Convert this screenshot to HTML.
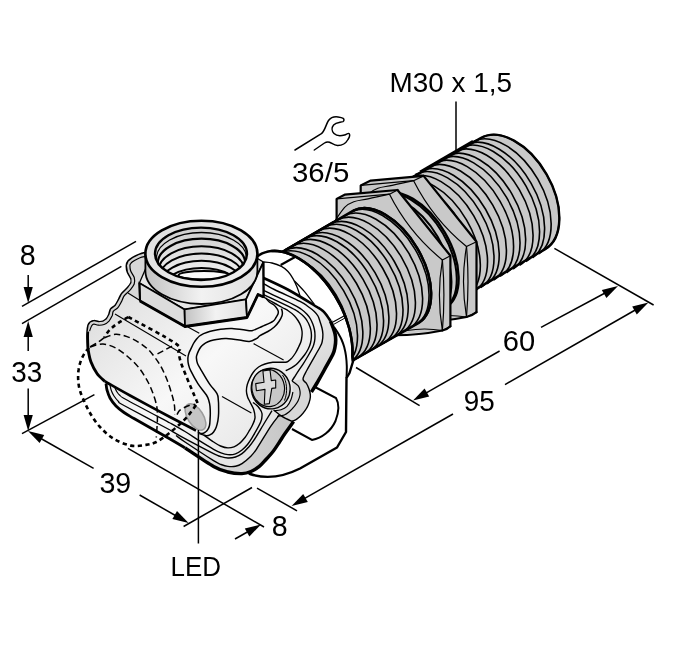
<!DOCTYPE html>
<html><head><meta charset="utf-8"><title>M30 sensor dimension drawing</title>
<style>html,body{margin:0;padding:0;background:#fff}svg{display:block;will-change:transform}text{font-family:"Liberation Sans",sans-serif;fill:#000}</style>
</head><body>
<svg width="700" height="650" viewBox="0 0 700 650">
<rect width="700" height="650" fill="#fff"/>
<g id="barrel">
<path d="M259.0,265.4 L480.7,138.1 A64.2 39.0 60.0 0 1 544.8,249.4 L325.1,376.3 A64.5 37.2 59.2 0 1 259.0,265.4 Z" fill="#c9c9c9" stroke="#000" stroke-width="2.4" stroke-linejoin="round"/>
<path d="M259.0,265.4 A64.5 37.2 59.2 0 1 325.1,376.3" fill="none" stroke="#000" stroke-width="1.6" />
<path d="M265.5,261.6 A64.6 37.3 59.2 0 1 331.5,372.6" fill="none" stroke="#000" stroke-width="1.6" />
<path d="M272.0,257.9 A64.6 37.3 59.3 0 1 338.0,368.9" fill="none" stroke="#000" stroke-width="1.6" />
<path d="M278.5,254.1 A64.6 37.3 59.3 0 1 344.5,365.2" fill="none" stroke="#000" stroke-width="1.6" />
<path d="M285.0,250.3 A64.7 37.3 59.3 0 1 351.0,361.5" fill="none" stroke="#000" stroke-width="1.6" />
<path d="M291.5,246.5 A64.7 37.3 59.3 0 1 357.5,357.8" fill="none" stroke="#000" stroke-width="1.6" />
<path d="M298.0,242.7 A64.7 37.3 59.4 0 1 364.0,354.1" fill="none" stroke="#000" stroke-width="1.6" />
<path d="M304.5,239.0 A64.7 37.4 59.4 0 1 370.5,350.4" fill="none" stroke="#000" stroke-width="1.6" />
<path d="M311.0,235.2 A64.8 37.4 59.4 0 1 376.9,346.7" fill="none" stroke="#000" stroke-width="1.6" />
<path d="M317.5,231.4 A64.8 37.4 59.4 0 1 383.4,343.0" fill="none" stroke="#000" stroke-width="1.6" />
<path d="M324.0,227.6 A64.8 37.4 59.5 0 1 389.9,339.3" fill="none" stroke="#000" stroke-width="1.6" />
<path d="M330.5,223.9 A64.9 37.4 59.5 0 1 396.4,335.6" fill="none" stroke="#000" stroke-width="1.6" />
<path d="M337.0,220.1 A64.9 37.4 59.5 0 1 402.9,331.9" fill="none" stroke="#000" stroke-width="1.6" />
<path d="M343.5,216.3 A64.9 37.5 59.5 0 1 409.4,328.2" fill="none" stroke="#000" stroke-width="1.6" />
<path d="M350.0,212.5 A64.9 37.5 59.5 0 1 415.8,324.5" fill="none" stroke="#000" stroke-width="1.6" />
<path d="M356.5,208.8 A65.0 37.5 59.6 0 1 422.3,320.8" fill="none" stroke="#000" stroke-width="1.6" />
<path d="M363.0,205.0 A65.0 37.5 59.6 0 1 428.8,317.1" fill="none" stroke="#000" stroke-width="1.6" />
<path d="M369.5,201.2 A65.0 37.5 59.6 0 1 435.3,313.4" fill="none" stroke="#000" stroke-width="1.6" />
<path d="M376.0,197.4 A65.1 37.5 59.6 0 1 441.8,309.7" fill="none" stroke="#000" stroke-width="1.6" />
<path d="M382.5,193.6 A65.1 37.6 59.7 0 1 448.2,306.0" fill="none" stroke="#000" stroke-width="1.6" />
<path d="M389.0,189.9 A65.1 37.6 59.7 0 1 454.7,302.3" fill="none" stroke="#000" stroke-width="1.6" />
<path d="M395.5,186.1 A65.1 37.6 59.7 0 1 461.2,298.6" fill="none" stroke="#000" stroke-width="1.6" />
<path d="M402.0,182.3 A65.2 37.6 59.7 0 1 467.7,294.9" fill="none" stroke="#000" stroke-width="1.6" />
<path d="M408.5,178.5 A65.2 37.6 59.8 0 1 474.2,291.2" fill="none" stroke="#000" stroke-width="1.6" />
<path d="M415.0,174.8 A65.2 37.6 59.8 0 1 480.7,287.5" fill="none" stroke="#000" stroke-width="1.6" />
<path d="M421.5,171.0 A65.3 37.7 59.8 0 1 487.1,283.8" fill="none" stroke="#000" stroke-width="1.6" />
<path d="M428.0,167.2 A65.3 37.7 59.8 0 1 493.6,280.1" fill="none" stroke="#000" stroke-width="1.6" />
<path d="M434.5,163.4 A65.3 37.7 59.8 0 1 500.1,276.4" fill="none" stroke="#000" stroke-width="1.6" />
<path d="M441.0,159.7 A65.3 37.7 59.9 0 1 506.6,272.7" fill="none" stroke="#000" stroke-width="1.6" />
<path d="M447.5,155.9 A65.4 37.7 59.9 0 1 513.1,269.0" fill="none" stroke="#000" stroke-width="1.6" />
<path d="M454.0,152.1 A65.4 37.7 59.9 0 1 519.6,265.3" fill="none" stroke="#000" stroke-width="1.6" />
<path d="M460.5,148.3 A65.4 37.8 59.9 0 1 526.0,261.6" fill="none" stroke="#000" stroke-width="1.6" />
<path d="M467.0,144.6 A65.5 37.8 60.0 0 1 532.5,257.9" fill="none" stroke="#000" stroke-width="1.6" />
<path d="M473.7,141.2 A65.1 38.2 60.0 0 1 538.8,253.8" fill="none" stroke="#000" stroke-width="1.6" />
<path d="M480.7,138.1 A64.2 39.0 60.0 0 1 544.8,249.4" fill="none" stroke="#000" stroke-width="1.6" />
</g>
<g id="nut2">
<path d="M370.7,180.6 L423.6,175.9 L476.5,241.7 L476.5,312.2 L423.6,316.9 L370.7,251.1 Z" fill="#c9c9c9" stroke="none" stroke-width="1.3" />
<path d="M360.7,185.4 L370.7,180.6 L423.6,175.9 L476.5,241.7 L476.5,312.2 L466.5,317.0 L413.6,321.7 L360.7,255.9 Z" fill="#c9c9c9" stroke="none" stroke-width="1.3" />
<path d="M360.7,185.4 L413.6,180.7" fill="none" stroke="#000" stroke-width="1.2" />
<path d="M413.6,180.7 L423.6,175.9" fill="none" stroke="#000" stroke-width="1.2" />
<path d="M466.5,246.5 L476.5,241.7" fill="none" stroke="#000" stroke-width="1.2" />
<path d="M466.5,317.0 L476.5,312.2" fill="none" stroke="#000" stroke-width="1.2" />
<path d="M360.7,255.9 L360.7,185.4 L370.7,180.6 L423.6,175.9" fill="none" stroke="#000" stroke-width="2.2" stroke-linejoin="round" stroke-linecap="round"/>
<path d="M423.6,175.9 L476.5,241.7 L476.5,312.2" fill="none" stroke="#000" stroke-width="2.2" stroke-linejoin="round" stroke-linecap="round"/>
<path d="M466.5,246.5 Q460.5,281.7 466.5,317.0" fill="none" stroke="#000" stroke-width="1.2" stroke-linejoin="round" stroke-linecap="round"/>
<path d="M466.5,246.5 Q469.5,281.7 466.5,317.0" fill="none" stroke="#000" stroke-width="1.2" stroke-linejoin="round" stroke-linecap="round"/>
<path d="M413.6,180.7 Q433.0,219.2 466.5,246.5" fill="none" stroke="#000" stroke-width="1.2" stroke-linejoin="round" stroke-linecap="round"/>
<path d="M476.5,312.2 Q472.1,315.9 466.5,317.0" fill="none" stroke="#000" stroke-width="2.2" stroke-linejoin="round" stroke-linecap="round"/>
<path d="M466.5,317.0 Q440.3,322.3 413.6,321.7" fill="none" stroke="#000" stroke-width="2.2" stroke-linejoin="round" stroke-linecap="round"/>
<path d="M466.5,317.0 Q439.4,312.4 413.6,321.7" fill="none" stroke="#000" stroke-width="1.2" stroke-linejoin="round" stroke-linecap="round"/>
<path d="M358.5,208.2 C360.2,205.8 365.5,197.2 368.7,193.8 C372.0,190.5 374.0,189.6 377.9,188.2 C381.8,186.8 386.3,186.6 392.2,185.3 C398.2,184.1 410.0,181.5 413.6,180.7" fill="none" stroke="#000" stroke-width="1.2" />
</g>
<path d="M364.6,204.0 L380.8,194.7 A65.1 37.6 59.7 0 1 446.5,307.0 L430.4,316.2 A65.0 37.5 59.6 0 1 364.6,204.0 Z" fill="#c9c9c9" stroke="#000" stroke-width="2.4" stroke-linejoin="round"/>
<path d="M372.4,199.5 A65.0 37.5 59.6 0 1 438.2,311.7" fill="none" stroke="#000" stroke-width="2.0" />
<path d="M379.0,195.7 A65.1 37.5 59.7 0 1 444.7,308.0" fill="none" stroke="#000" stroke-width="2.0" />
<g id="nut1">
<path d="M344.6,194.7 L397.5,190.0 L450.4,255.8 L450.4,326.3 L397.5,331.0 L344.6,265.2 Z" fill="#c9c9c9" stroke="none" stroke-width="1.3" />
<path d="M336.6,198.9 L344.6,194.7 L397.5,190.0 L450.4,255.8 L450.4,326.3 L442.4,330.5 L389.5,335.2 L336.6,269.4 Z" fill="#c9c9c9" stroke="none" stroke-width="1.3" />
<path d="M336.6,198.9 L389.5,194.2" fill="none" stroke="#000" stroke-width="1.2" />
<path d="M389.5,194.2 L397.5,190.0" fill="none" stroke="#000" stroke-width="1.2" />
<path d="M442.4,260.0 L450.4,255.8" fill="none" stroke="#000" stroke-width="1.2" />
<path d="M442.4,330.5 L450.4,326.3" fill="none" stroke="#000" stroke-width="1.2" />
<path d="M336.6,269.4 L336.6,198.9 L344.6,194.7 L397.5,190.0" fill="none" stroke="#000" stroke-width="2.2" stroke-linejoin="round" stroke-linecap="round"/>
<path d="M397.5,190.0 L450.4,255.8 L450.4,326.3" fill="none" stroke="#000" stroke-width="2.2" stroke-linejoin="round" stroke-linecap="round"/>
<path d="M442.4,260.0 Q436.4,295.2 442.4,330.5" fill="none" stroke="#000" stroke-width="1.2" stroke-linejoin="round" stroke-linecap="round"/>
<path d="M442.4,260.0 Q445.4,295.2 442.4,330.5" fill="none" stroke="#000" stroke-width="1.2" stroke-linejoin="round" stroke-linecap="round"/>
<path d="M389.5,194.2 Q408.9,232.7 442.4,260.0" fill="none" stroke="#000" stroke-width="1.2" stroke-linejoin="round" stroke-linecap="round"/>
<path d="M450.4,326.3 Q447.1,329.7 442.4,330.5" fill="none" stroke="#000" stroke-width="2.2" stroke-linejoin="round" stroke-linecap="round"/>
<path d="M442.4,330.5 Q416.2,335.8 389.5,335.2" fill="none" stroke="#000" stroke-width="2.2" stroke-linejoin="round" stroke-linecap="round"/>
<path d="M442.4,330.5 Q415.3,325.9 389.5,335.2" fill="none" stroke="#000" stroke-width="1.2" stroke-linejoin="round" stroke-linecap="round"/>
<path d="M334.4,221.7 C336.1,219.3 341.4,210.7 344.6,207.3 C347.9,204.0 349.9,203.1 353.8,201.7 C357.7,200.3 362.2,200.1 368.1,198.8 C374.1,197.6 385.9,195.0 389.5,194.2" fill="none" stroke="#000" stroke-width="1.2" />
</g>
<path d="M259.0,265.4 L353.4,210.6 A65.0 37.5 59.6 0 1 419.2,322.6 L325.1,376.3 A64.5 37.2 59.2 0 1 259.0,265.4 Z" fill="#c9c9c9" stroke="#000" stroke-width="2.4" stroke-linejoin="round"/>
<path d="M259.0,265.4 A64.5 37.2 59.2 0 1 325.1,376.3" fill="none" stroke="#000" stroke-width="1.6" />
<path d="M265.5,261.6 A64.6 37.3 59.2 0 1 331.5,372.6" fill="none" stroke="#000" stroke-width="1.6" />
<path d="M272.0,257.9 A64.6 37.3 59.3 0 1 338.0,368.9" fill="none" stroke="#000" stroke-width="1.6" />
<path d="M278.5,254.1 A64.6 37.3 59.3 0 1 344.5,365.2" fill="none" stroke="#000" stroke-width="1.6" />
<path d="M285.0,250.3 A64.7 37.3 59.3 0 1 351.0,361.5" fill="none" stroke="#000" stroke-width="1.6" />
<path d="M291.5,246.5 A64.7 37.3 59.3 0 1 357.5,357.8" fill="none" stroke="#000" stroke-width="1.6" />
<path d="M298.0,242.7 A64.7 37.3 59.4 0 1 364.0,354.1" fill="none" stroke="#000" stroke-width="1.6" />
<path d="M304.5,239.0 A64.7 37.4 59.4 0 1 370.5,350.4" fill="none" stroke="#000" stroke-width="1.6" />
<path d="M311.0,235.2 A64.8 37.4 59.4 0 1 376.9,346.7" fill="none" stroke="#000" stroke-width="1.6" />
<path d="M317.5,231.4 A64.8 37.4 59.4 0 1 383.4,343.0" fill="none" stroke="#000" stroke-width="1.6" />
<path d="M324.0,227.6 A64.8 37.4 59.5 0 1 389.9,339.3" fill="none" stroke="#000" stroke-width="1.6" />
<path d="M330.5,223.9 A64.9 37.4 59.5 0 1 396.4,335.6" fill="none" stroke="#000" stroke-width="1.6" />
<path d="M337.0,220.1 A64.9 37.4 59.5 0 1 402.9,331.9" fill="none" stroke="#000" stroke-width="1.6" />
<path d="M343.5,216.3 A64.9 37.5 59.5 0 1 409.4,328.2" fill="none" stroke="#000" stroke-width="1.6" />
<path d="M350.0,212.5 A64.9 37.5 59.5 0 1 415.8,324.5" fill="none" stroke="#000" stroke-width="1.6" />
<path d="M353.4,210.6 A65.0 37.5 59.6 0 1 419.2,322.6" fill="none" stroke="#000" stroke-width="2.4" />
<line x1="285.0" y1="250.3" x2="334.0" y2="221.8" stroke="#000" stroke-width="2.4" />
<line x1="420.0" y1="171.9" x2="473.0" y2="141.1" stroke="#000" stroke-width="2.4" />
<defs>
<linearGradient id="gBody" x1="0" y1="0" x2="1" y2="1"><stop offset="0" stop-color="#cecece"/><stop offset="0.25" stop-color="#e6e6e6"/><stop offset="0.5" stop-color="#f8f8f8"/><stop offset="1" stop-color="#dcdcdc"/></linearGradient>
<linearGradient id="gCyl" x1="0" y1="0" x2="1" y2="0"><stop offset="0" stop-color="#c2c2c2"/><stop offset="0.5" stop-color="#f2f2f2"/><stop offset="1" stop-color="#e0e0e0"/></linearGradient>
<linearGradient id="gRing" x1="0" y1="0" x2="1" y2="1"><stop offset="0" stop-color="#dcdcdc"/><stop offset="1" stop-color="#f2f2f2"/></linearGradient>
<linearGradient id="gBore" x1="0" y1="0" x2="0" y2="1"><stop offset="0" stop-color="#cecece"/><stop offset="1" stop-color="#f2f2f2"/></linearGradient>
<linearGradient id="gBot" gradientUnits="userSpaceOnUse" x1="190" y1="445" x2="285" y2="440"><stop offset="0" stop-color="#e4e4e4"/><stop offset="0.45" stop-color="#d4d4d4"/><stop offset="1" stop-color="#c8c8c8"/></linearGradient>
<linearGradient id="gBand" gradientUnits="userSpaceOnUse" x1="270" y1="285" x2="325" y2="370"><stop offset="0" stop-color="#fcfcfc"/><stop offset="0.45" stop-color="#ececec"/><stop offset="1" stop-color="#d8d8d8"/></linearGradient>
<clipPath id="cBore"><ellipse cx="201" cy="253.8" rx="46" ry="26.2"/></clipPath>
</defs>
<g id="bracket">
<path d="M250.6,263.8 L252.5,261.1 L254.6,258.7 L256.9,256.6 L259.5,254.9 L262.2,253.4 L265.1,252.3 L268.1,251.5 L271.3,251.0 L274.7,250.9 L278.1,251.1 L281.7,251.7 L285.3,252.5 L289.0,253.8 L292.7,255.3 L296.5,257.2 L300.3,259.4 L304.1,261.9 L307.8,264.6 L311.5,267.7 L315.1,271.0 L318.7,274.5 L322.1,278.3 L325.5,282.2 L328.7,286.4 L331.7,290.7 L334.6,295.2 L337.3,299.8 L339.9,304.5 L342.2,309.3 L344.3,314.1 L346.2,319.0 L347.8,323.9 L349.3,328.7 L350.4,333.6 L351.3,338.3 L352.0,343.0 L352.4,347.6 L352.5,352.0 L352.4,356.3 L353.0,361.5 L349.5,373.0 L346.5,378.0 L346.0,432.0 L337.0,447.5 L300.0,468.5 C285,476 268,480 250,474 L200,440 L230,300 Z" fill="#fff" stroke="#000" stroke-width="2.4" stroke-linejoin="round"/>
<path d="M271.3,251.0 L274.7,250.9 L278.1,251.1 L281.7,251.7 L285.3,252.5 L289.0,253.8 L292.7,255.3 L296.5,257.2 L300.3,259.4 L304.1,261.9 L307.8,264.6 L311.5,267.7 L315.1,271.0 L318.7,274.5 L322.1,278.3 L325.5,282.2 L328.7,286.4 L331.7,290.7 L334.6,295.2 L337.3,299.8 L339.9,304.5 L342.2,309.3 L344.3,314.1 L346.2,319.0 L347.8,323.9 L349.3,328.7 L350.4,333.6 L351.3,338.3 L352.0,343.0 L352.4,347.6 L352.5,352.0 L352.4,356.3 L353.0,361.5" fill="none" stroke="#000" stroke-width="2.6" />
<path d="M292,429 L312,440 C322,438 331,431 335.5,421 C339,412 339.5,404 336,398 L313,386" fill="none" stroke="#000" stroke-width="2.0" />
<line x1="280.7" y1="265.0" x2="295.5" y2="256.8" stroke="#000" stroke-width="2.2" />
<line x1="333.0" y1="322.0" x2="344.0" y2="316.0" stroke="#000" stroke-width="1.2" />
<line x1="334.0" y1="324.2" x2="345.0" y2="318.0" stroke="#000" stroke-width="1.0" />
<path d="M263.6,262.0 C265.0,262.2 269.0,262.3 272.0,263.0 C275.0,263.7 278.7,265.0 281.4,266.4 C284.1,267.8 286.1,269.5 288.0,271.5 C289.9,273.5 291.5,276.0 293.0,278.6 C294.5,281.2 295.8,284.1 297.0,287.0 C298.2,289.9 299.5,294.2 300.0,295.7" fill="none" stroke="#000" stroke-width="1.3" />
<path d="M294.3,280.7 C296.0,282.5 301.0,287.5 304.3,291.4 C307.6,295.3 312.6,302.1 314.3,304.3" fill="none" stroke="#000" stroke-width="1.3" />
<path d="M334.0,327.0 C334.7,328.0 336.8,330.9 338.0,333.0 C339.2,335.1 340.5,337.2 341.5,339.5 C342.5,341.8 343.4,344.2 344.2,347.0 C344.9,349.8 345.6,352.8 346.0,356.0 C346.4,359.2 346.7,362.3 346.8,366.0 C346.9,369.7 346.6,376.0 346.5,378.0" fill="none" stroke="#000" stroke-width="2.0" />
</g>
<g id="housing">
<path d="M146.0,253.0 L139.0,255.0 L133.0,258.0 L128.5,261.5 L127.0,265.5 L128.0,272.0 L131.5,278.5 L131.5,283.0 L128.0,288.0 L122.0,294.0 L119.0,300.0 L115.7,305.7 L111.0,309.5 L109.5,314.5 L106.8,319.2 L103.1,321.8 L98.5,322.3 L94.0,321.2 L90.5,322.6 L88.6,325.5 L87.7,332.0 L87.6,340.0 L88.2,350.0 L91.0,362.0 L97.0,373.5 L105.0,381.5 L106.0,383.5 L107.0,390.0 L110.0,398.0 L116.0,406.0 L124.0,412.5 L134.0,418.5 L170.0,439.0 L185.0,447.9 L213.6,466.4 L227.9,472.0 L242.0,473.6 L251.0,471.5 L259.3,466.4 L266.0,459.5 L273.6,450.7 L279.5,442.0 L285.0,433.6 L293.6,421.4 L296.4,419.3 L305.0,410.7 L310.0,399.3 L311.4,392.0 L311.4,392.0 L317.0,383.0 L324.3,370.0 L332.9,354.3 L335.0,347.0 L335.7,340.0 L335.0,333.5 L332.9,327.0 L330.5,321.0 L327.0,315.7 L323.0,311.0 L317.0,307.0 L288.6,290.0 L263.6,278.0 L263.6,262.0 L220.0,240.0 L170.0,245.0 Z" fill="url(#gBody)" stroke="none" stroke-width="1.3" />
<path d="M263.6,278.0 L288.6,290.0 L317.0,307.0 L323.0,311.0 L327.0,315.7 L330.5,321.0 L332.9,327.0 L335.0,333.5 L335.7,340.0 L335.0,347.0 L332.9,354.3 L324.3,370.0 L317.0,383.0 L311.4,392.0 L305.0,410.7 L303.0,379.0 L307.0,370.0 L320.0,347.0 L322.3,341.0 L322.9,334.3 L322.0,328.0 L320.0,321.4 L318.0,316.0 L314.3,311.4 L308.0,306.5 L300.0,301.4 L274.3,289.5 L263.6,283.5 Z" fill="url(#gBand)" stroke="none" stroke-width="1.3" />
<path d="M185.0,447.9 L213.6,466.4 L227.9,472.0 L242.0,473.6 L251.0,471.5 L259.3,466.4 L266.0,459.5 L273.6,450.7 L279.5,442.0 L285.0,433.6 L293.6,421.4 L292.0,421.4 L282.0,416.4 L279.3,415.0 L270.7,426.4 L256.4,449.3 L249.5,457.5 L242.0,463.6 L235.5,466.3 L227.9,466.4 L221.0,464.5 L213.6,460.7 Z" fill="url(#gBot)" stroke="none" stroke-width="1.3" />
<path d="M185.0,438.6 L213.6,453.6 L221.0,456.6 L227.9,458.0 L235.5,457.0 L242.0,453.6 L248.0,447.8 L253.6,440.7 L265.0,422.0 L272.0,410.7 L273.6,410.0 L279.3,415.0 L270.7,426.4 L256.4,449.3 L249.5,457.5 L242.0,463.6 L235.5,466.3 L227.9,466.4 L221.0,464.5 L213.6,460.7 L185.0,442.0 Z" fill="#e6e6e6" stroke="none" stroke-width="1.3" />
<path d="M292.0,381.0 L303.0,379.0 L306.5,383.5 L309.0,389.0 L310.3,394.5 L310.0,399.3 L308.0,405.5 L305.0,410.7 L301.0,415.5 L296.4,419.3 L292.0,421.4 L292.0,421.4 L282.0,416.4 L273.6,410.0 L274.3,410.7 L274.3,410.7 L281.0,409.8 L287.0,406.4 L291.0,399.5 L292.9,392.0 Z" fill="#d8d8d8" stroke="none" stroke-width="1.3" />
<path d="M146.0,253.0 C144.8,253.3 141.2,254.2 139.0,255.0 C136.8,255.8 134.8,256.9 133.0,258.0 C131.2,259.1 129.5,260.2 128.5,261.5 C127.5,262.8 127.1,263.8 127.0,265.5 C126.9,267.2 127.2,269.8 128.0,272.0 C128.8,274.2 130.9,276.7 131.5,278.5 C132.1,280.3 132.1,281.4 131.5,283.0 C130.9,284.6 129.6,286.2 128.0,288.0 C126.4,289.8 123.5,292.0 122.0,294.0 C120.5,296.0 120.0,298.1 119.0,300.0 C118.0,301.9 117.0,304.1 115.7,305.7 C114.4,307.3 112.0,308.0 111.0,309.5 C110.0,311.0 110.2,312.9 109.5,314.5 C108.8,316.1 107.9,318.0 106.8,319.2 C105.7,320.4 104.5,321.3 103.1,321.8 C101.7,322.3 100.0,322.4 98.5,322.3 C97.0,322.2 95.3,321.1 94.0,321.2 C92.7,321.2 91.4,321.9 90.5,322.6 C89.6,323.3 89.1,323.9 88.6,325.5 C88.1,327.1 87.9,329.6 87.7,332.0 C87.5,334.4 87.5,337.0 87.6,340.0 C87.7,343.0 87.6,346.3 88.2,350.0 C88.8,353.7 89.5,358.1 91.0,362.0 C92.5,365.9 94.7,370.2 97.0,373.5 C99.3,376.8 103.7,380.2 105.0,381.5" fill="none" stroke="#000" stroke-width="2.9" />
<path d="M146.0,253.0 L139.0,255.0 L133.0,258.0 L128.5,261.5 L127.0,265.5 L128.0,272.0 L131.5,278.5 L131.5,283.0 L128.0,288.0 L122.0,294.0 L119.0,300.0 L115.7,305.7 L111.0,309.5 L109.5,314.5 L106.8,319.2 L103.1,321.8 L98.5,322.3 L94.0,321.2 L90.5,322.6 L88.6,325.5 L87.7,332.0 L89.6,331.0 L91.4,326.3 L92.3,324.9 L94.1,324.1 L98.3,325.2 L104.1,324.5 L109.0,321.1 L112.2,315.7 L113.4,311.2 L117.9,307.6 L121.6,301.4 L124.3,295.7 L130.2,289.9 L134.2,284.0 L134.3,277.6 L130.7,271.1 L129.9,265.6 L130.8,263.3 L134.5,260.5 L140.0,257.7 L146.0,256.2 Z" fill="#d4d4d4" stroke="none" stroke-width="1.3" />
<path d="M146.0,256.2 L140.0,257.7 L134.5,260.5 L130.8,263.3 L129.9,265.6 L130.7,271.1 L134.3,277.6 L134.2,284.0 L130.2,289.9 L128.0,293.0 L140.0,300.5 L140.0,283.0 L147.0,270.0 Z" fill="#d8d8d8" stroke="none" stroke-width="1.3" />
<path d="M146.0,256.2 C145.0,256.5 142.0,257.0 140.0,257.7 C138.1,258.4 136.1,259.5 134.5,260.5 C133.0,261.4 131.5,262.4 130.8,263.3 C130.0,264.2 129.9,264.3 129.9,265.6 C129.9,266.9 130.0,269.1 130.7,271.1 C131.5,273.0 133.7,275.5 134.3,277.6 C134.8,279.8 134.9,282.0 134.2,284.0 C133.5,286.0 131.8,287.9 130.2,289.9 C128.5,291.9 125.8,293.8 124.3,295.7 C122.9,297.7 122.6,299.4 121.6,301.4 C120.5,303.3 119.3,305.9 117.9,307.6 C116.6,309.2 114.3,309.8 113.4,311.2 C112.4,312.5 112.9,314.0 112.2,315.7 C111.4,317.3 110.3,319.6 109.0,321.1 C107.6,322.6 105.9,323.8 104.1,324.5 C102.3,325.2 100.0,325.3 98.3,325.2 C96.6,325.1 95.1,324.2 94.1,324.1 C93.1,324.0 92.8,324.5 92.3,324.9 C91.9,325.2 91.8,325.3 91.4,326.3 C90.9,327.3 89.9,330.2 89.6,331.0" fill="none" stroke="#000" stroke-width="1.2" />
<path d="M106.0,383.5 C106.2,384.6 106.3,387.6 107.0,390.0 C107.7,392.4 108.5,395.3 110.0,398.0 C111.5,400.7 113.7,403.6 116.0,406.0 C118.3,408.4 121.0,410.4 124.0,412.5 C127.0,414.6 126.3,414.1 134.0,418.5 C141.7,422.9 161.5,434.1 170.0,439.0 C178.5,443.9 182.5,446.4 185.0,447.9" fill="none" stroke="#000" stroke-width="2.8" />
<path d="M185.0,447.9 C189.8,451.0 206.4,462.4 213.6,466.4 C220.8,470.4 223.2,470.8 227.9,472.0 C232.6,473.2 238.2,473.7 242.0,473.6 C245.8,473.5 248.1,472.7 251.0,471.5 C253.9,470.3 256.8,468.4 259.3,466.4 C261.8,464.4 263.6,462.1 266.0,459.5 C268.4,456.9 271.4,453.6 273.6,450.7 C275.9,447.8 277.6,444.9 279.5,442.0 C281.4,439.1 282.6,437.0 285.0,433.6 C287.4,430.2 292.2,423.4 293.6,421.4" fill="none" stroke="#000" stroke-width="3.4" />
<path d="M263.6,278.0 C267.8,280.0 279.7,285.2 288.6,290.0 C297.5,294.8 311.3,303.5 317.0,307.0 C322.7,310.5 321.3,309.6 323.0,311.0 C324.7,312.4 325.8,314.0 327.0,315.7 C328.2,317.4 329.9,320.1 330.5,321.0" fill="none" stroke="#000" stroke-width="2.6" />
<path d="M330.5,321.0 C330.9,322.0 332.1,324.9 332.9,327.0 C333.6,329.1 334.5,331.3 335.0,333.5 C335.5,335.7 335.7,337.8 335.7,340.0 C335.7,342.2 335.5,344.6 335.0,347.0 C334.5,349.4 334.7,350.5 332.9,354.3 C331.1,358.1 326.9,365.2 324.3,370.0 C321.7,374.8 319.1,379.3 317.0,383.0 C314.9,386.7 312.3,390.5 311.4,392.0" fill="none" stroke="#000" stroke-width="3.6" />
<path d="M263.6,283.5 C265.4,284.5 268.2,286.5 274.3,289.5 C280.4,292.5 294.4,298.6 300.0,301.4 C305.6,304.2 305.6,304.8 308.0,306.5 C310.4,308.2 312.6,309.8 314.3,311.4 C316.0,313.0 317.1,314.3 318.0,316.0 C318.9,317.7 319.3,319.4 320.0,321.4 C320.7,323.4 321.5,325.9 322.0,328.0 C322.5,330.1 322.8,332.1 322.9,334.3 C322.9,336.5 322.8,338.9 322.3,341.0 C321.8,343.1 322.6,342.2 320.0,347.0 C317.4,351.8 309.8,364.7 307.0,370.0 C304.2,375.3 303.1,376.8 303.0,379.0 C302.9,381.2 305.5,381.8 306.5,383.5 C307.5,385.2 308.4,387.2 309.0,389.0 C309.6,390.8 310.1,392.8 310.3,394.5 C310.5,396.2 310.4,397.5 310.0,399.3 C309.6,401.1 308.8,403.6 308.0,405.5 C307.2,407.4 306.2,409.0 305.0,410.7 C303.8,412.4 302.4,414.1 301.0,415.5 C299.6,416.9 297.9,418.3 296.4,419.3 C294.9,420.3 292.7,421.0 292.0,421.4" fill="none" stroke="#000" stroke-width="1.4" />
<path d="M263.6,290.0 C264.0,290.2 260.8,289.0 265.7,291.4 C270.6,293.8 287.0,301.4 292.9,304.3 C298.8,307.2 298.6,307.3 301.0,309.0 C303.4,310.7 305.4,312.6 307.0,314.3 C308.6,316.0 309.5,317.3 310.5,319.0 C311.5,320.7 312.2,322.5 312.9,324.3 C313.6,326.1 314.1,328.1 314.5,330.0 C314.9,331.9 315.0,333.8 315.0,335.7 C315.0,337.6 314.9,339.6 314.5,341.5 C314.1,343.4 314.0,344.6 312.9,347.0 C311.8,349.4 309.7,353.1 308.0,356.0 C306.3,358.9 304.5,361.9 302.9,364.3 C301.3,366.8 300.0,368.6 298.6,370.7 C297.2,372.8 295.6,375.3 294.5,377.0 C293.4,378.7 292.4,380.3 292.0,381.0" fill="none" stroke="#000" stroke-width="1.4" />
<path d="M263.6,294.7 C268.2,296.9 285.6,305.0 291.4,307.9 C297.2,310.8 296.4,310.5 298.5,312.0 C300.6,313.5 302.8,315.3 304.3,317.0 C305.9,318.7 306.9,320.3 307.8,322.0 C308.8,323.7 309.4,325.3 310.0,327.0 C310.6,328.7 311.0,330.3 311.2,332.0 C311.4,333.7 311.5,335.2 311.4,337.0 C311.3,338.8 311.0,341.0 310.5,343.0 C310.0,345.0 309.2,347.0 308.2,349.0 C307.2,351.0 305.9,353.1 304.5,355.0 C303.1,356.9 301.4,358.9 300.0,360.5 C298.6,362.1 297.4,363.6 296.0,364.8 C294.6,366.0 293.1,366.9 291.4,367.9 C289.7,368.9 286.6,370.2 285.7,370.7" fill="none" stroke="#000" stroke-width="1.4" />
<path d="M258.0,294.5 C258.9,294.9 259.7,294.9 263.6,297.0 C267.5,299.1 277.2,304.7 281.4,307.0 C285.5,309.3 286.4,309.6 288.5,311.0 C290.6,312.4 292.7,314.1 294.3,315.7 C295.9,317.3 296.9,318.8 298.0,320.5 C299.1,322.2 300.0,323.9 300.7,325.7 C301.4,327.4 301.8,329.3 302.0,331.0 C302.2,332.7 302.2,333.9 302.0,335.7 C301.8,337.4 301.6,339.6 301.0,341.5 C300.4,343.4 299.5,345.1 298.6,347.0 C297.7,348.9 296.7,351.1 295.5,353.0 C294.3,354.9 292.6,357.2 291.4,358.6 C290.1,360.0 288.9,360.7 288.0,361.3 C287.1,361.9 287.2,362.0 285.7,362.2 C284.2,362.4 281.1,362.3 279.0,362.3 C276.9,362.3 275.2,362.0 272.9,362.3 C270.6,362.6 267.4,363.2 265.0,364.0 C262.6,364.8 260.5,365.7 258.6,367.0 C256.7,368.3 254.9,370.2 253.5,372.0 C252.1,373.8 251.0,375.8 250.0,377.9 C249.0,380.0 247.9,382.4 247.3,384.5 C246.7,386.6 246.4,388.6 246.4,390.7 C246.4,392.8 247.0,395.1 247.6,397.0 C248.2,398.9 249.0,399.9 250.0,402.0 C251.0,404.1 252.8,406.7 253.6,409.3 C254.4,411.9 255.2,415.3 255.0,417.9 C254.8,420.5 253.4,422.9 252.5,425.0 C251.6,427.1 250.6,428.6 249.3,430.7 C248.1,432.8 246.7,435.4 245.0,437.5 C243.3,439.6 241.1,442.1 239.3,443.6 C237.5,445.2 235.9,446.1 234.0,446.8 C232.1,447.5 230.2,448.0 227.9,447.9 C225.7,447.8 222.9,447.0 220.5,446.0 C218.1,445.0 216.4,443.8 213.6,442.0 C210.8,440.2 205.3,436.2 203.6,435.0" fill="none" stroke="#000" stroke-width="1.4" />
<path d="M170.0,423.0 C172.5,424.4 180.1,428.6 185.0,431.5 C189.9,434.4 194.5,437.7 199.3,440.7 C204.1,443.7 210.0,447.3 213.6,449.3 C217.2,451.3 218.6,451.9 221.0,452.8 C223.4,453.7 225.5,454.4 227.9,454.6 C230.3,454.8 233.2,454.6 235.5,453.8 C237.8,453.0 240.0,451.6 242.0,450.0 C244.0,448.4 245.8,446.5 247.5,444.5 C249.2,442.5 249.8,441.6 252.0,437.9 C254.2,434.1 259.0,426.1 260.7,422.0 C262.4,417.9 262.2,415.9 262.0,413.6 C261.8,411.4 260.4,409.9 259.5,408.5 C258.6,407.1 257.5,406.0 256.4,405.0 C255.3,404.0 253.5,402.9 252.9,402.5" fill="none" stroke="#000" stroke-width="1.4" />
<path d="M170.0,430.0 C172.5,431.4 177.7,434.7 185.0,438.6 C192.3,442.5 207.6,450.6 213.6,453.6 C219.6,456.6 218.6,455.9 221.0,456.6 C223.4,457.3 225.5,457.9 227.9,458.0 C230.3,458.1 233.2,457.7 235.5,457.0 C237.8,456.3 239.9,455.1 242.0,453.6 C244.1,452.1 246.1,450.0 248.0,447.8 C249.9,445.6 250.8,445.0 253.6,440.7 C256.4,436.4 261.9,427.0 265.0,422.0 C268.1,417.0 270.8,412.6 272.0,410.7" fill="none" stroke="#000" stroke-width="1.4" />
<path d="M176.0,435.5 C177.5,436.6 178.7,437.8 185.0,442.0 C191.3,446.2 207.6,456.9 213.6,460.7 C219.6,464.4 218.6,463.6 221.0,464.5 C223.4,465.4 225.5,466.1 227.9,466.4 C230.3,466.7 233.2,466.8 235.5,466.3 C237.8,465.8 239.7,465.1 242.0,463.6 C244.3,462.1 247.1,459.9 249.5,457.5 C251.9,455.1 252.9,454.5 256.4,449.3 C259.9,444.1 266.9,432.1 270.7,426.4 C274.5,420.7 277.9,416.9 279.3,415.0" fill="none" stroke="#000" stroke-width="1.4" />
<path d="M292.0,381.0 C292.6,381.4 294.4,382.6 295.5,383.5 C296.6,384.4 297.9,385.1 298.6,386.4 C299.4,387.6 299.8,389.6 300.0,391.0 C300.2,392.4 300.3,393.3 300.0,395.0 C299.7,396.7 298.9,399.1 298.0,401.0 C297.1,402.9 295.7,404.6 294.3,406.4 C292.9,408.1 291.2,410.1 289.5,411.5 C287.8,412.9 286.4,414.2 284.3,415.0 C282.2,415.8 278.2,416.2 277.0,416.4" fill="none" stroke="#000" stroke-width="1.2" />
<path d="M292.9,392.0 C292.6,393.2 292.0,397.1 291.0,399.5 C290.0,401.9 288.7,404.7 287.0,406.4 C285.3,408.1 283.1,409.1 281.0,409.8 C278.9,410.5 275.4,410.6 274.3,410.7" fill="none" stroke="#000" stroke-width="1.2" />
<path d="M273.6,410.0 C275.0,411.1 278.9,414.5 282.0,416.4 C285.1,418.3 290.3,420.6 292.0,421.4" fill="none" stroke="#000" stroke-width="1.3" />
<path d="M105.0,381.5 C109.2,383.8 119.2,389.6 130.0,395.5 C140.8,401.4 159.0,411.2 170.0,417.0 C181.0,422.8 191.7,428.2 196.0,430.5" fill="none" stroke="#000" stroke-width="2.6" />
<path d="M110.0,385.0 C110.2,386.0 110.8,389.2 111.5,391.0 C112.2,392.8 112.8,394.2 114.0,396.0 C115.2,397.8 116.8,399.9 118.5,401.5 C120.2,403.1 115.4,400.8 124.0,405.5 C132.6,410.2 162.3,425.9 170.0,430.0" fill="none" stroke="#000" stroke-width="1.2" />
<path d="M115.0,388.0 C115.3,388.7 116.2,390.8 117.0,392.0 C117.8,393.2 118.5,394.2 120.0,395.5 C121.5,396.8 117.7,394.9 126.0,399.5 C134.3,404.1 162.7,419.1 170.0,423.0" fill="none" stroke="#000" stroke-width="1.2" />
<line x1="115.0" y1="314.0" x2="186.0" y2="356.0" stroke="#000" stroke-width="1.1" />
<line x1="128.0" y1="293.0" x2="140.0" y2="300.5" stroke="#000" stroke-width="1.1" />
<line x1="187.9" y1="327.0" x2="199.3" y2="333.3" stroke="#000" stroke-width="1.2" />
</g>
<g id="cover">
<path d="M265.7,298.0 C266.3,298.7 267.9,300.8 269.3,302.0 C270.7,303.2 272.7,303.9 274.0,305.0 C275.3,306.1 276.3,307.5 277.0,308.6 C277.7,309.7 278.2,310.6 278.3,311.5 C278.4,312.4 278.3,313.3 277.9,314.3 C277.5,315.3 276.8,316.3 276.0,317.5 C275.2,318.7 275.2,319.9 272.9,321.4 C270.6,322.9 265.5,324.9 262.0,326.5 C258.5,328.1 254.8,330.1 252.0,330.7 C249.2,331.3 248.3,330.4 245.0,330.0 C241.7,329.6 235.5,328.8 232.0,328.6 C228.5,328.4 226.6,328.8 224.0,329.0 C221.4,329.2 218.8,329.6 216.4,330.0 C214.0,330.4 211.6,330.9 209.5,331.5 C207.4,332.1 205.3,332.9 203.6,333.6 C201.9,334.4 200.7,335.1 199.5,336.0 C198.3,336.9 197.4,338.1 196.4,339.3 C195.4,340.6 194.3,342.1 193.5,343.5 C192.7,344.9 192.2,346.3 191.4,347.9 C190.7,349.5 189.6,351.3 189.0,353.0 C188.4,354.7 188.0,356.0 187.9,357.9 C187.8,359.8 188.0,362.4 188.5,364.5 C189.0,366.6 189.1,367.5 190.7,370.7 C192.3,373.9 195.3,379.6 197.9,383.6 C200.5,387.7 204.6,392.2 206.4,395.0 C208.2,397.8 208.2,398.6 208.8,400.5 C209.4,402.4 209.8,404.2 210.0,406.4 C210.2,408.6 210.3,411.1 210.3,413.5 C210.3,415.9 210.1,418.7 210.0,420.7 C209.9,422.7 209.8,424.1 209.5,425.5 C209.2,426.9 208.6,428.2 207.9,429.3 C207.2,430.4 206.5,431.3 205.5,432.0 C204.5,432.7 203.3,433.6 202.0,433.6 C200.7,433.6 198.6,432.3 197.9,432.0" fill="none" stroke="#000" stroke-width="1.5" />
<path d="M281.4,308.6 C281.5,309.2 282.2,310.8 282.3,312.0 C282.4,313.2 282.6,314.1 282.0,315.7 C281.4,317.3 280.3,319.6 279.0,321.5 C277.7,323.4 276.2,325.3 274.3,327.0 C272.4,328.7 270.3,330.1 267.9,331.5 C265.5,332.9 261.9,334.5 260.0,335.7 C258.1,336.9 258.2,337.7 256.4,338.6 C254.6,339.6 252.2,341.2 249.3,341.4 C246.5,341.6 243.1,340.5 239.3,340.0 C235.5,339.5 229.6,338.8 226.4,338.6 C223.2,338.4 222.1,338.8 220.0,339.0 C217.9,339.2 215.6,339.5 213.6,340.0 C211.6,340.5 209.7,341.1 208.0,341.8 C206.3,342.5 204.8,343.4 203.6,344.3 C202.4,345.2 201.4,346.2 200.6,347.3 C199.8,348.4 199.2,349.5 198.6,350.7 C198.0,351.9 197.4,353.3 197.0,354.5 C196.6,355.7 196.3,356.4 196.4,357.9 C196.5,359.4 196.8,361.6 197.5,363.5 C198.2,365.4 198.7,365.9 200.7,369.3 C202.7,372.7 206.6,379.6 209.3,383.6 C212.0,387.7 215.5,390.9 217.0,393.6 C218.5,396.3 218.0,397.9 218.3,400.0 C218.6,402.1 218.6,404.1 218.6,406.4 C218.6,408.6 218.7,411.1 218.6,413.5 C218.5,415.9 218.3,418.4 217.9,420.7 C217.5,422.9 217.0,425.1 216.3,427.0 C215.6,428.9 214.6,430.7 213.6,432.0 C212.6,433.3 211.5,434.1 210.3,434.7 C209.1,435.3 208.2,435.9 206.4,435.7 C204.6,435.5 200.5,434.0 199.3,433.6" fill="none" stroke="#000" stroke-width="1.5" />
<line x1="253.6" y1="343.6" x2="283.6" y2="360.0" stroke="#000" stroke-width="1.2" />
<line x1="222.0" y1="396.4" x2="251.4" y2="412.9" stroke="#000" stroke-width="1.2" />
<ellipse cx="270.7" cy="388.6" rx="19.4" ry="20.3" fill="#d2d2d2" stroke="#000" stroke-width="1.4" transform="rotate(-10 270.7 388.6)"/>
<ellipse cx="268.2" cy="388" rx="16.3" ry="18.6" fill="#c8c8c8" stroke="#000" stroke-width="1.2" transform="rotate(-10 268.2 388)"/>
<path d="M282.5,375 C287,381 288,392 284.5,400.5" fill="none" stroke="#000" stroke-width="1.0"/>
<path d="M262.9,370.9 L270,370 L271.3,380.6 L275.7,380 L275.7,387.9 L271.8,388.4 L269.3,403.6 L264.3,404.3 L265,389.4 L256.4,390.7 L255.7,383.6 L264,382.3 Z" fill="#dcdcdc" stroke="#000" stroke-width="1.1" stroke-linejoin="round"/>
</g>
<g id="port">
<path d="M139.4,283.0 L156.0,245.0 L219.0,236.0 L263.4,262.0 L246.0,299.4 L184.6,309.4 Z" fill="#e6e6e6" stroke="#000" stroke-width="1.3" />
<path d="M139.4,283.0 L184.6,309.4 L185.0,326.5 L140.0,301.0 Z" fill="#dcdcdc" stroke="#000" stroke-width="1.8" />
<path d="M184.6,309.4 L246.0,299.4 L247.0,317.5 L185.0,326.5 Z" fill="url(#gCyl)" stroke="#000" stroke-width="1.8" />
<path d="M246.0,299.4 L263.4,262.0 L263.6,297.0 L258.0,294.5 L247.0,317.5 Z" fill="#f4f4f4" stroke="#000" stroke-width="1.8" />
<path d="M140.0,301.0 L185.0,326.5 L247.0,317.5 L258.0,294.5 L263.6,297.0" fill="none" stroke="#000" stroke-width="2.8" stroke-linejoin="round"/>
<path d="M140.0,301.0 L139.4,283.0" fill="none" stroke="#000" stroke-width="2.0" />
<path d="M263.6,297.0 L263.4,262.0" fill="none" stroke="#000" stroke-width="2.0" />
<path d="M145.4,253.5 L145.4,271 A56 33 0 0 0 257.4,271 L257.4,253.5 Z" fill="url(#gCyl)" stroke="#000" stroke-width="1.8" />
<ellipse cx="201.4" cy="253.7" rx="56" ry="33" fill="url(#gRing)" stroke="#000" stroke-width="2.6"/>
<ellipse cx="201" cy="253.8" rx="46" ry="26.2" fill="url(#gBore)" stroke="none"/>
<g clip-path="url(#cBore)">
<ellipse cx="201.5" cy="258.0" rx="45" ry="25.5" fill="none" stroke="#000" stroke-width="1.3"/>
<ellipse cx="201.5" cy="263.3" rx="43.8" ry="24.6" fill="none" stroke="#000" stroke-width="2.3"/>
<ellipse cx="201.5" cy="270.3" rx="42.8" ry="24" fill="none" stroke="#000" stroke-width="2.0"/>
<ellipse cx="201.5" cy="277" rx="42" ry="23.5" fill="none" stroke="#000" stroke-width="2.0"/>
<ellipse cx="201.5" cy="283.8" rx="41.2" ry="23" fill="none" stroke="#000" stroke-width="2.0"/>
<ellipse cx="201.5" cy="290.6" rx="40.4" ry="22.5" fill="none" stroke="#000" stroke-width="2.0"/>
<ellipse cx="201.5" cy="297.4" rx="39.6" ry="22" fill="none" stroke="#000" stroke-width="2.0"/>
<ellipse cx="204" cy="275.2" rx="25.5" ry="4.2" fill="#fafafa" stroke="#000" stroke-width="1.9"/>
</g>
<ellipse cx="201" cy="253.8" rx="46" ry="26.2" fill="none" stroke="#000" stroke-width="2.4"/>
</g>
<g id="dashed">
<ellipse cx="195.5" cy="417" rx="14.8" ry="7.8" fill="#c6c6c6" stroke="#9c9c9c" stroke-width="1.5" transform="rotate(57 195.5 417)"/>
<path d="M128.3,317.0 C127.0,317.8 123.0,320.0 120.3,321.7 C117.6,323.4 114.4,325.6 112.3,327.4 C110.2,329.2 108.8,330.8 107.5,332.5 C106.2,334.2 104.8,336.8 104.3,337.7" fill="none" stroke="#000" stroke-width="2.6" stroke-dasharray="4.2 3.5"/>
<path d="M104.3,337.7 C103.0,338.6 98.7,341.9 96.3,343.4 C93.9,344.9 91.0,346.3 90.0,346.9" fill="none" stroke="#000" stroke-width="1.6" stroke-dasharray="6.5 3.5"/>
<path d="M89.0,348.0 C88.3,348.8 86.2,350.5 84.9,352.6 C83.6,354.7 82.0,357.8 80.9,360.6 C79.9,363.5 79.0,366.5 78.6,369.7 C78.1,372.9 78.0,376.8 78.2,380.0 C78.4,383.2 78.7,385.9 79.5,389.0 C80.3,392.1 81.2,394.6 83.0,398.6 C84.8,402.6 87.2,408.3 90.0,413.0 C92.8,417.7 96.0,422.7 100.0,427.0 C104.0,431.3 108.8,435.9 114.0,439.0 C119.2,442.1 125.8,444.6 131.0,445.6 C136.2,446.6 140.8,445.6 145.0,445.0 C149.2,444.4 152.1,444.1 156.3,442.0 C160.5,439.9 165.4,436.1 170.0,432.5 C174.6,428.9 180.3,423.8 183.8,420.4 C187.3,417.0 188.9,414.7 191.0,412.0 C193.1,409.3 195.6,405.6 196.5,404.3" fill="none" stroke="#000" stroke-width="2.6" stroke-dasharray="4.2 3.5"/>
<path d="M128.3,317.0 C136.2,321.4 167.4,337.6 175.8,343.6 C184.2,349.6 177.6,349.6 178.5,353.0 C179.4,356.4 179.5,358.5 181.5,364.2 C183.5,369.9 188.0,380.5 190.7,387.0 C193.4,393.5 196.4,400.3 197.6,403.0" fill="none" stroke="#000" stroke-width="2.6" stroke-dasharray="4.2 3.5"/>
<path d="M90.0,346.9 C92.2,346.4 98.7,343.8 103.0,344.0 C107.3,344.2 111.7,346.0 115.7,348.0 C119.7,350.0 123.2,352.8 127.0,356.0 C130.8,359.2 135.1,363.1 138.6,367.4 C142.1,371.7 145.4,377.2 148.0,382.0 C150.6,386.8 152.5,392.0 154.0,396.3 C155.5,400.6 156.4,404.2 157.0,408.0 C157.6,411.8 157.5,414.3 157.4,419.2 C157.3,424.1 156.5,434.4 156.3,437.5" fill="none" stroke="#000" stroke-width="1.5" stroke-dasharray="6.5 3.5"/>
<path d="M104.3,337.7 C106.2,337.1 111.9,334.5 115.7,334.3 C119.5,334.1 123.2,335.3 127.0,336.6 C130.8,337.9 135.2,340.2 138.6,342.3 C142.0,344.4 145.0,346.6 147.7,349.0 C150.3,351.4 152.3,354.1 154.5,357.0 C156.7,359.9 158.7,362.5 160.9,366.5 C163.1,370.5 165.6,376.0 167.5,381.0 C169.4,386.0 171.2,392.1 172.4,396.3 C173.6,400.5 174.1,402.9 174.5,406.0 C174.9,409.1 174.7,413.2 174.7,414.7" fill="none" stroke="#000" stroke-width="1.5" stroke-dasharray="6.5 3.5"/>
<line x1="157.5" y1="353.9" x2="174.7" y2="344.7" stroke="#000" stroke-width="1.5" stroke-dasharray="6.5 3.5"/>
<path d="M177.0,414.7 C177.4,414.0 178.4,411.6 179.5,410.5 C180.6,409.4 182.2,408.6 183.8,407.8 C185.4,407.0 187.1,406.1 189.0,405.5 C190.9,404.9 194.2,404.5 195.3,404.3" fill="none" stroke="#000" stroke-width="1.5" stroke-dasharray="6.5 3.5"/>
</g>
<g id="dims">
<line x1="22.0" y1="306.4" x2="136.0" y2="241.4" stroke="#000" stroke-width="1.5" />
<line x1="22.0" y1="323.6" x2="121.4" y2="266.4" stroke="#000" stroke-width="1.5" />
<line x1="28.2" y1="275.0" x2="28.2" y2="290.0" stroke="#000" stroke-width="1.5" />
<path d="M28.2,303.0 L23.6,287.0 L32.8,287.0 Z" fill="#000"/>
<path d="M28.2,321.0 L32.8,337.0 L23.6,337.0 Z" fill="#000"/>
<line x1="28.2" y1="334.0" x2="28.2" y2="351.0" stroke="#000" stroke-width="1.5" />
<line x1="28.2" y1="388.4" x2="28.2" y2="418.0" stroke="#000" stroke-width="1.5" />
<path d="M28.2,431.0 L23.6,415.0 L32.8,415.0 Z" fill="#000"/>
<line x1="22.0" y1="433.6" x2="94.4" y2="394.6" stroke="#000" stroke-width="1.5" />
<path d="M28.0,431.0 L44.2,435.0 L39.6,443.0 Z" fill="#000"/>
<line x1="40.0" y1="438.0" x2="93.6" y2="468.4" stroke="#000" stroke-width="1.5" />
<line x1="139.6" y1="495.0" x2="178.0" y2="517.0" stroke="#000" stroke-width="1.5" />
<path d="M188.6,523.0 L172.4,519.0 L177.0,511.0 Z" fill="#000"/>
<line x1="183.6" y1="526.5" x2="252.0" y2="487.5" stroke="#000" stroke-width="1.5" />
<line x1="128.0" y1="448.4" x2="264.0" y2="527.0" stroke="#000" stroke-width="1.5" />
<line x1="235.0" y1="539.0" x2="250.0" y2="530.5" stroke="#000" stroke-width="1.5" />
<path d="M261.0,524.4 L249.4,536.4 L244.8,528.4 Z" fill="#000"/>
<line x1="257.0" y1="488.2" x2="297.0" y2="510.8" stroke="#000" stroke-width="1.5" />
<path d="M291.6,506.0 L303.2,494.0 L307.8,502.0 Z" fill="#000"/>
<line x1="303.0" y1="499.4" x2="453.0" y2="414.0" stroke="#000" stroke-width="1.5" />
<line x1="505.0" y1="384.6" x2="637.0" y2="309.0" stroke="#000" stroke-width="1.5" />
<path d="M648.4,302.4 L636.8,314.4 L632.2,306.4 Z" fill="#000"/>
<line x1="356.0" y1="367.5" x2="419.6" y2="405.6" stroke="#000" stroke-width="1.5" />
<path d="M413.0,400.4 L424.6,388.4 L429.2,396.4 Z" fill="#000"/>
<line x1="425.0" y1="393.6" x2="499.6" y2="351.0" stroke="#000" stroke-width="1.5" />
<line x1="541.0" y1="327.4" x2="606.0" y2="292.5" stroke="#000" stroke-width="1.5" />
<path d="M618.0,286.0 L606.4,298.0 L601.8,290.0 Z" fill="#000"/>
<line x1="554.4" y1="248.4" x2="653.6" y2="305.0" stroke="#000" stroke-width="1.5" />
<line x1="456.0" y1="101.6" x2="456.0" y2="150.0" stroke="#000" stroke-width="1.5" />
<line x1="198.4" y1="430.0" x2="198.4" y2="543.5" stroke="#000" stroke-width="1.5" />
<path d="M295,150 L321.4,133.6 C325,131 326,124 328.5,120.5 C331,117.3 335,116.6 338,117 C340,117.3 342,117.6 343.2,118.3 C344.3,119.2 344.2,121 343,121.6 C340,122.6 336,122.6 333.6,125 C331.5,127.5 331.6,131 334,133.5 C336.5,136 341,136 344.5,135 C346.5,134.4 348,132.8 349,133.5 C350,134.5 349.3,137.5 348,139.5 C346,143 342,145.6 337.5,145.5 C334,145.3 332,143.2 329.5,142.2 C327.5,141.6 326,142 324.5,143 L314.3,150" fill="none" stroke="#000" stroke-width="1.5" stroke-linecap="round" stroke-linejoin="round"/>
<text x="389.6" y="91.8" font-size="27.5" textLength="122.5" lengthAdjust="spacingAndGlyphs">M30 x 1,5</text>
<text x="292" y="181.7" font-size="28.2" textLength="57.3" lengthAdjust="spacingAndGlyphs">36/5</text>
<text x="19.8" y="265" font-size="28.6">8</text>
<text x="11.2" y="381.7" font-size="28.6" textLength="31" lengthAdjust="spacingAndGlyphs">33</text>
<text x="99.4" y="493.1" font-size="28.6" textLength="31.8" lengthAdjust="spacingAndGlyphs">39</text>
<text x="271.8" y="536.3" font-size="28.6">8</text>
<text x="170.5" y="575.8" font-size="26.8" textLength="50.5" lengthAdjust="spacingAndGlyphs">LED</text>
<text x="502.7" y="351.1" font-size="28.6" textLength="32.4" lengthAdjust="spacingAndGlyphs">60</text>
<text x="463.8" y="411.2" font-size="28.6" textLength="31" lengthAdjust="spacingAndGlyphs">95</text>
</g>
</svg>
</body></html>
